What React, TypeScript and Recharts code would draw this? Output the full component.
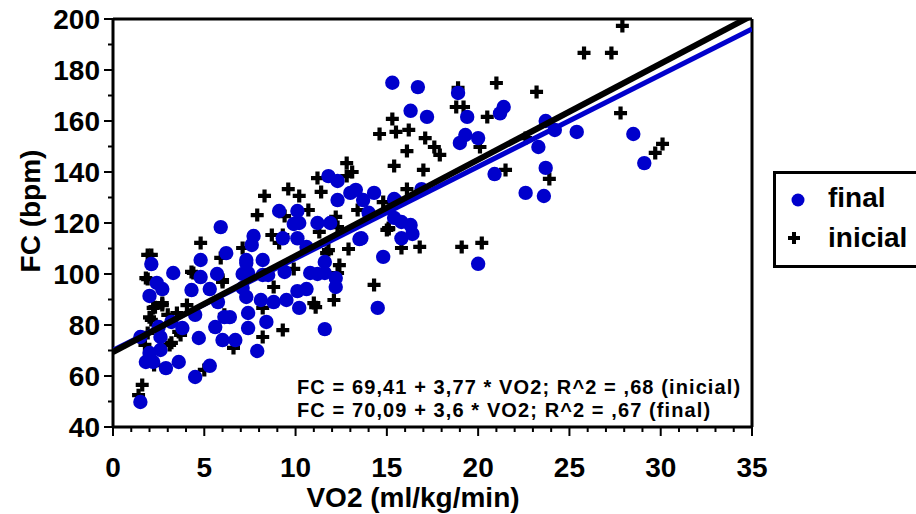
import { ScatterChart, Scatter, XAxis, YAxis } from "recharts";

// VO2 (ml/kg/min), FC (bpm)
const finalPoints: [number, number][] = [
  [15.3, 175], [16.7, 173.3], [16.3, 164], [17.2, 161.6], [18.9, 171], [21.4, 165.5],
  [21.2, 163], [19.4, 161.6], [19.3, 154.5], [19.0, 151.4], [20.0, 153.3], [23.7, 160],
  [24.2, 156.5], [25.4, 155.7], [23.3, 149.8], [28.5, 154.9], [29.1, 143.5], [20.9, 139.2],
  [23.7, 141.6], [22.6, 131.8], [23.6, 130.6], [20.0, 104], [16.9, 133.3], [15.4, 129.4],
  [15.5, 128.6], [14.3, 131.8], [13.7, 129], [14.0, 124], [12.3, 129], [13.0, 131.8],
  [13.3, 133], [11.8, 138.4], [12.3, 136.5], [9.1, 124.7], [10.2, 120], [11.2, 120],
  [11.9, 120], [5.9, 118.4], [15.4, 122], [15.8, 120.4], [16.3, 119.2], [16.4, 115.7],
  [15.8, 114], [13.6, 114], [14.8, 106.7], [14.5, 86.7], [11.6, 78.4], [11.6, 104.7],
  [10.8, 100.4], [11.2, 100], [11.6, 100.4], [12.2, 98.4], [12.2, 94.9], [10.1, 93.3],
  [10.6, 94.1], [9.5, 89.8], [10.2, 86.7], [7.7, 114.9], [7.6, 111.4], [9.3, 114],
  [10.1, 114], [10.6, 110.6], [13.5, 113.7], [6.2, 108.2], [4.8, 105.5], [2.1, 103.9],
  [3.3, 100.4], [2.4, 96.5], [2.7, 94.1], [2.0, 91.4], [4.3, 93.7], [4.8, 98.8],
  [5.3, 94.1], [5.7, 100], [7.3, 105.5], [7.3, 104.3], [8.2, 105.5], [7.4, 100.4],
  [7.1, 100], [8.2, 99.6], [8.5, 99.6], [9.4, 100.8], [7.1, 94.5], [7.3, 91],
  [8.1, 89.8], [8.8, 89], [5.75, 89], [6.1, 83.1], [6.4, 83.1], [7.4, 84.7],
  [7.4, 78.8], [8.4, 81.2], [5.6, 79.2], [6.0, 74.1], [6.7, 74.1], [7.9, 69.8],
  [4.7, 74.9], [4.5, 59.6], [5.3, 64], [3.6, 65.5], [2.9, 63.1], [3.2, 81.2],
  [3.8, 78.8], [2.5, 79.2], [2.6, 75.3], [1.5, 75.3], [2.0, 69], [2.6, 70.2],
  [1.8, 65.5], [2.2, 65.5], [1.5, 49.8], [4.5, 84], [10.1, 124.7], [9.9, 119.6],
];

const inicialPoints: [number, number][] = [
  [27.9, 197.3], [25.8, 186.7], [27.3, 186.7], [21.0, 174.9], [23.2, 171.4], [18.9, 173],
  [18.8, 165.5], [19.2, 165.5], [20.5, 161.6], [27.8, 163.1], [17.1, 153.3], [17.6, 149.8],
  [17.9, 146.7], [20.1, 149.8], [22.6, 153.3], [17.0, 140.8], [21.5, 140.8], [23.9, 137.3],
  [29.7, 147.5], [30.1, 151], [16.8, 110.6], [19.1, 110.6], [20.2, 112.2], [15.3, 160.8],
  [14.6, 154.9], [15.5, 155.7], [16.2, 156.5], [16.1, 148.2], [15.4, 142.4], [12.8, 143.5],
  [13.1, 140], [12.8, 138.4], [11.2, 137.6], [11.4, 132.2], [9.6, 133.3], [10.2, 130.6],
  [8.3, 130.6], [7.9, 123.1], [10.7, 125.1], [9.4, 122.7], [13.4, 125.1], [14.8, 128.2],
  [16.1, 133.3], [12.2, 122.4], [15.1, 118], [12.3, 118.4], [11.3, 116.5], [15.0, 117.3],
  [8.7, 115.3], [9.3, 115.3], [12.9, 109.8], [15.8, 110.2], [4.8, 112.2], [9.1, 112.2],
  [7.1, 110.2], [1.9, 107.5], [5.9, 106.3], [11.7, 108.2], [11.8, 109.4], [12.4, 103.5],
  [12.3, 100.4], [9.9, 102], [4.4, 100.4], [1.9, 98], [6.0, 96.9], [8.8, 94.9],
  [14.3, 95.7], [2.2, 86.7], [2.1, 82], [2.7, 87.8], [4.05, 87.8], [3.5, 84.7],
  [8.2, 86.7], [11.0, 88.6], [11.1, 87], [12.1, 89.8], [9.3, 78], [8.2, 75.3],
  [6.6, 71], [3.1, 72.2], [3.7, 76.1], [1.75, 72.2], [2.25, 64.3], [1.6, 56.5],
  [1.4, 52.5], [5.0, 62.4], [2.0, 83], [3.0, 84], [1.9, 76.9], [3.6, 77.3],
  [3.2, 73], [6.1, 84], [6.0, 97.6], [4.3, 100.8], [1.8, 98.4], [2.7, 88.6],
  [2.3, 87], [2.1, 107.5], [15.1, 117.6],
];

const fitInicial = { intercept: 69.41, slope: 3.77 };
const fitFinal = { intercept: 70.09, slope: 3.6 };

const xDomain: [number, number] = [0, 35];
const yDomain: [number, number] = [40, 200];
const xTicks = Array.from({ length: 36 }, (_, i) => i);
const yTicks = Array.from({ length: 17 }, (_, i) => 40 + i * 10);
const xLabelEvery = 5;
const yLabelEvery = 20;

const equationLines = [
  "FC = 69,41 + 3,77 * VO2; R^2 = ,68 (inicial)",
  "FC = 70,09 + 3,6 * VO2; R^2 = ,67 (final)",
];

const BLUE = "#0000cc";
const FONT = "'Liberation Sans', Arial, Helvetica, sans-serif";

const toXY = (pts: [number, number][]) => pts.map(([x, y]) => ({ x, y }));
const fitLine = (f: { intercept: number; slope: number }) =>
  xDomain.map((x) => ({ x, y: f.intercept + f.slope * x }));

const Dot = (p: any) => <circle cx={p.cx} cy={p.cy} r={7.2} fill={BLUE} />;
const Plus = (p: any) => (
  <path
    d={`M${p.cx - 6.5},${p.cy}H${p.cx + 6.5}M${p.cx},${p.cy - 6.5}V${p.cy + 6.5}`}
    stroke="#000"
    strokeWidth={4.2}
  />
);
const NoShape = () => <g />;

const BottomTick = (p: any) => {
  const v = p.payload.value;
  const major = v % xLabelEvery === 0;
  return (
    <g>
      <line x1={p.x} x2={p.x} y1={p.y} y2={p.y + (major ? 9 : 5)} stroke="#000" strokeWidth={2} />
      {major && (
        <text x={p.x} y={p.y + 50} textAnchor="middle" fontFamily={FONT} fontWeight="bold" fontSize={28} fill="#000">
          {v}
        </text>
      )}
    </g>
  );
};

const TopTick = (p: any) => {
  const major = p.payload.value % xLabelEvery === 0;
  return <line x1={p.x} x2={p.x} y1={p.y} y2={p.y - (major ? 9 : 5)} stroke="#000" strokeWidth={2} />;
};

const LeftTick = (p: any) => {
  const v = p.payload.value;
  const major = (v - 40) % yLabelEvery === 0;
  return (
    <g>
      <line x1={p.x} x2={p.x - (major ? 9 : 5)} y1={p.y} y2={p.y} stroke="#000" strokeWidth={2} />
      {major && (
        <text x={p.x - 13} y={p.y + 10} textAnchor="end" fontFamily={FONT} fontWeight="bold" fontSize={28} fill="#000">
          {v}
        </text>
      )}
    </g>
  );
};

const RightTick = (p: any) => {
  const major = (p.payload.value - 40) % yLabelEvery === 0;
  return <line x1={p.x} x2={p.x + (major ? 9 : 5)} y1={p.y} y2={p.y} stroke="#000" strokeWidth={2} />;
};

const axisLine = { stroke: "#000", strokeWidth: 3 };

export default function App() {
  return (
    <div style={{ position: "absolute", left: 0, top: 0, width: 916, height: 514, background: "#fff", fontFamily: FONT }}>
      <ScatterChart width={916} height={514} margin={{ top: 0, right: 0, bottom: 0, left: 0 }}>
        <XAxis
          xAxisId="bottom"
          type="number"
          dataKey="x"
          domain={xDomain}
          ticks={xTicks}
          interval={0}
          allowDataOverflow
          height={87}
          tickSize={0}
          tickMargin={0}
          tickLine={false}
          axisLine={axisLine}
          tick={<BottomTick />}
          label={{
            content: () => (
              <text x={413} y={507} textAnchor="middle" fontFamily={FONT} fontWeight="bold" fontSize={28} fill="#000">
                VO2 (ml/kg/min)
              </text>
            ),
          }}
        />
        <XAxis
          xAxisId="top"
          orientation="top"
          type="number"
          dataKey="x"
          domain={xDomain}
          ticks={xTicks}
          interval={0}
          height={19}
          tickSize={0}
          tickMargin={0}
          tickLine={false}
          axisLine={axisLine}
          tick={<TopTick />}
        />
        <YAxis
          yAxisId="left"
          type="number"
          dataKey="y"
          domain={yDomain}
          ticks={yTicks}
          interval={0}
          allowDataOverflow
          width={113}
          tickSize={0}
          tickMargin={0}
          tickLine={false}
          axisLine={axisLine}
          tick={<LeftTick />}
          label={{
            content: () => (
              <text
                x={40}
                y={211}
                transform="rotate(-90 40 211)"
                textAnchor="middle"
                fontFamily={FONT}
                fontWeight="bold"
                fontSize={28}
                fill="#000"
              >
                FC (bpm)
              </text>
            ),
          }}
        />
        <YAxis
          yAxisId="right"
          orientation="right"
          type="number"
          dataKey="y"
          domain={yDomain}
          ticks={yTicks}
          interval={0}
          width={164}
          tickSize={0}
          tickMargin={0}
          tickLine={false}
          axisLine={axisLine}
          tick={<RightTick />}
        />
        <Scatter
          name="inicial"
          xAxisId="bottom"
          yAxisId="left"
          data={toXY(inicialPoints)}
          shape={<Plus />}
          isAnimationActive={false}
        />
        <Scatter
          name="final"
          xAxisId="bottom"
          yAxisId="left"
          data={toXY(finalPoints)}
          shape={<Dot />}
          isAnimationActive={false}
        />
        <Scatter
          xAxisId="bottom"
          yAxisId="left"
          data={fitLine(fitFinal)}
          line={{ stroke: BLUE, strokeWidth: 5 }}
          shape={<NoShape />}
          isAnimationActive={false}
        />
        <Scatter
          xAxisId="bottom"
          yAxisId="left"
          data={fitLine(fitInicial)}
          line={{ stroke: "#000", strokeWidth: 6 }}
          shape={<NoShape />}
          isAnimationActive={false}
        />
      </ScatterChart>

      <div
        style={{
          position: "absolute",
          left: 297,
          top: 376,
          fontSize: 20,
          lineHeight: "22.5px",
          letterSpacing: 1.1,
          fontWeight: "bold",
          whiteSpace: "pre",
          color: "#000",
        }}
      >
        {equationLines.map((l) => (
          <div key={l}>{l}</div>
        ))}
      </div>

      <div
        style={{
          position: "absolute",
          left: 773,
          top: 171,
          width: 160,
          height: 91,
          border: "3px solid #000",
          fontSize: 28,
          fontWeight: "bold",
          color: "#000",
        }}
      >
        <svg width={24} height={24} style={{ position: "absolute", left: 10, top: 14 }}>
          <circle cx={12} cy={12} r={6.5} fill={BLUE} />
        </svg>
        <div style={{ position: "absolute", left: 52, top: 8, lineHeight: "32px" }}>final</div>
        <svg width={24} height={24} style={{ position: "absolute", left: 6, top: 52 }}>
          <path d="M6,12H18M12,6V18" stroke="#000" strokeWidth={4} />
        </svg>
        <div style={{ position: "absolute", left: 52, top: 48, lineHeight: "32px" }}>inicial</div>
      </div>
    </div>
  );
}
